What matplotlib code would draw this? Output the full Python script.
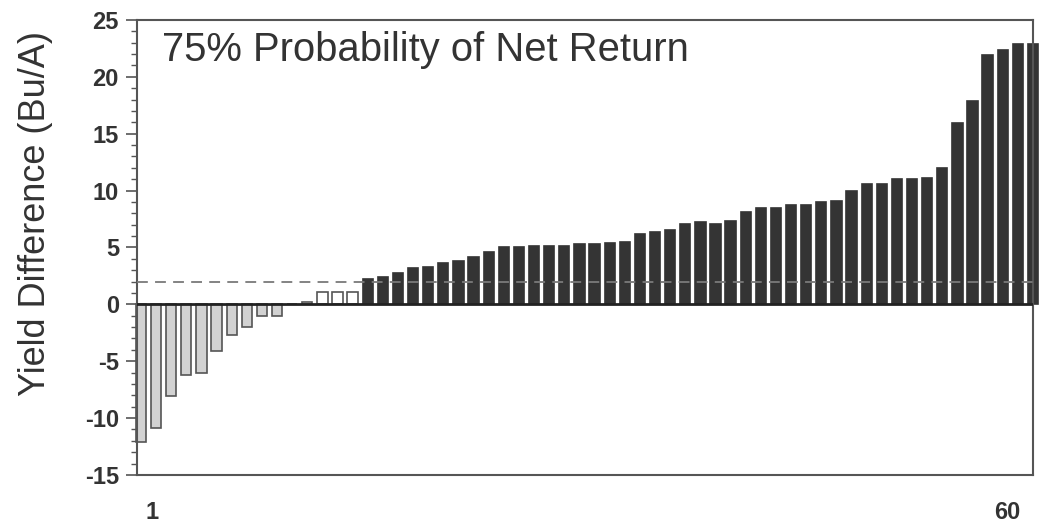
import matplotlib
matplotlib.use("Agg")
import matplotlib.pyplot as plt
from matplotlib.ticker import MultipleLocator
from matplotlib.transforms import ScaledTranslation

plt.rcParams["font.family"] = ["Liberation Sans", "DejaVu Sans"]
plt.rcParams["axes.unicode_minus"] = False

# yield difference per site, sorted low to high
sites = list(range(1, 61))
yield_diff = [
    -12.1, -10.9, -8.1, -6.2, -6.0, -4.1, -2.7, -2.0, -1.0, -1.0,
    0.0, 0.2, 1.1, 1.1, 1.1, 2.2, 2.4, 2.8, 3.2, 3.3,
    3.6, 3.8, 4.2, 4.6, 5.0, 5.0, 5.1, 5.1, 5.1, 5.3,
    5.3, 5.4, 5.5, 6.2, 6.4, 6.5, 7.1, 7.2, 7.1, 7.3,
    8.1, 8.5, 8.5, 8.7, 8.7, 9.0, 9.1, 10.0, 10.6, 10.6,
    11.0, 11.0, 11.1, 12.0, 15.9, 17.9, 21.9, 22.4, 22.9, 22.9,
]
break_even = 2.0
title = "75% Probability of Net Return"
x_tick_labels = ["1", "60"]

fig = plt.figure(figsize=(10.39, 5.23), dpi=100)
ax = fig.add_axes([0.1319, 0.0918, 0.8623, 0.870])

fills = []
edges = []
for v in yield_diff:
    if v < 0:
        fills.append("#d2d2d2")
        edges.append("#555555")
    elif v < break_even:
        fills.append("white")
        edges.append("#555555")
    else:
        fills.append("#343434")
        edges.append("#343434")

bars = ax.bar(sites, yield_diff, width=0.68, color=fills,
              edgecolor=edges, linewidth=1.2, zorder=2)
for b in bars:
    b.set_clip_on(False)

ax.axhline(0, color="#222222", linewidth=2.0, zorder=3)
ax.axhline(break_even, color="#7a7a7a", linewidth=1.3,
           dashes=(6, 4), zorder=4)

ax.set_xlim(0.74, 60)
ax.set_ylim(-15, 25)

ax.yaxis.set_major_locator(MultipleLocator(5))
ax.yaxis.set_minor_locator(MultipleLocator(1))
ax.tick_params(axis="y", which="major", direction="out", length=8,
               width=1.2, color="#555555", labelsize=17,
               labelcolor="#333333", pad=5)
ax.tick_params(axis="y", which="minor", direction="out", length=4,
               width=1.0, color="#555555")
for lab in ax.get_yticklabels():
    lab.set_fontweight("bold")

ax.set_xticks([1, 60])
ax.set_xticklabels(x_tick_labels)
ax.tick_params(axis="x", length=0, labelsize=17, labelcolor="#333333",
               pad=19)
for lab, dx in zip(ax.get_xticklabels(), [11, -26]):
    lab.set_fontweight("bold")
    lab.set_transform(lab.get_transform()
                      + ScaledTranslation(dx / 100, 0, fig.dpi_scale_trans))

for side in ["left", "right", "top", "bottom"]:
    ax.spines[side].set_color("#555555")
    ax.spines[side].set_linewidth(1.5)

ax.set_ylabel("Yield Difference (Bu/A)", fontsize=26, color="#333333")
ax.yaxis.set_label_coords(-0.094, 0.574)

ax.text(0.028, 0.935, title, transform=ax.transAxes, fontsize=28.8,
        color="#333333", ha="left", va="center")

fig.savefig("out.png", dpi=100)
